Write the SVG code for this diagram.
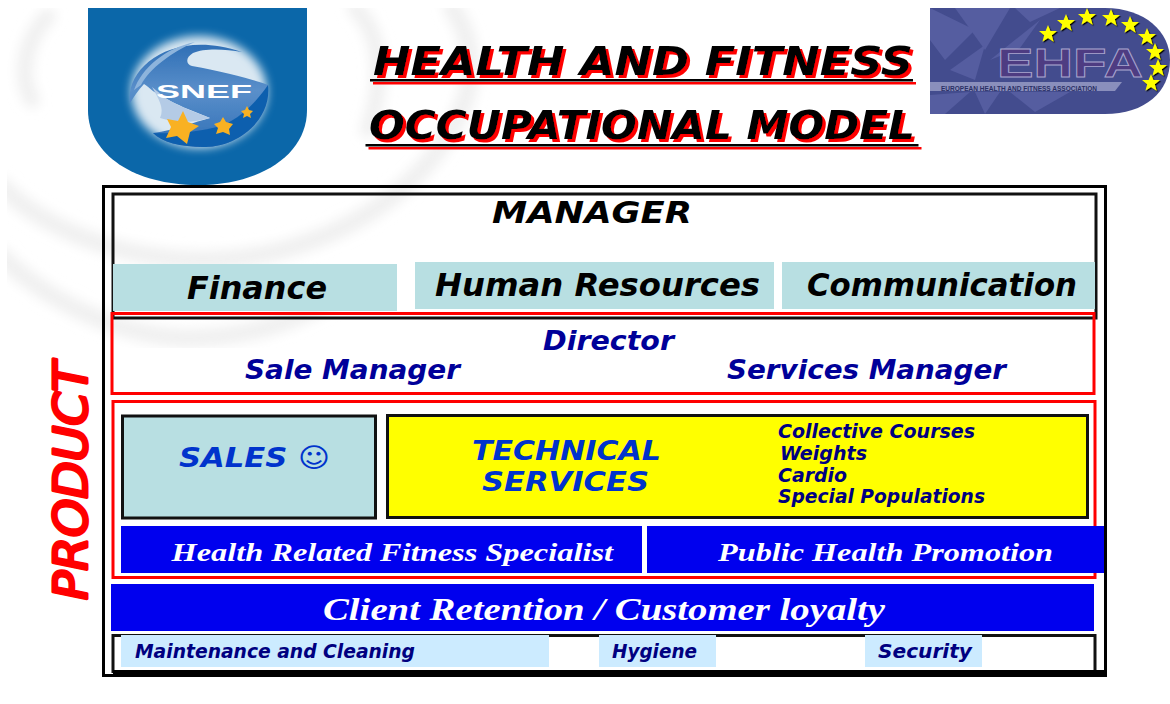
<svg xmlns="http://www.w3.org/2000/svg" width="1170" height="704" viewBox="0 0 1170 704">
<style>
text{font-family:"DejaVu Sans","Liberation Sans",sans-serif;font-weight:bold;font-style:italic}
.serif{font-family:"Liberation Serif",serif;fill:#fff}
.navy{fill:#000099}
.dk{fill:#000080}
.roy{fill:#0033cc}
.teal{fill:#b8dfe2}
.pale{fill:#ccebff}
.blue{fill:#0000ee}
.k{fill:none;stroke:#111;stroke-width:3}
.r{fill:none;stroke:#ff0000;stroke-width:3}
.ring{fill:none;stroke:#f0f0f0;stroke-linecap:round}
.logo{font-family:"Liberation Sans",sans-serif;font-style:normal}
</style>
<defs>
<filter id="shadow" x="-5%" y="-20%" width="110%" height="140%"><feDropShadow dx="3" dy="3" stdDeviation="0" flood-color="#ff0000"/></filter>
<filter id="b5" x="-20%" y="-20%" width="140%" height="140%"><feGaussianBlur stdDeviation="6"/></filter>
<filter id="b7" x="-30%" y="-30%" width="160%" height="160%"><feGaussianBlur stdDeviation="5"/></filter>
<filter id="b05" x="-10%" y="-10%" width="120%" height="120%"><feGaussianBlur stdDeviation="0.6"/></filter>
<filter id="starshadow" x="-10%" y="-10%" width="120%" height="120%"><feDropShadow dx="1.200" dy="1.200" stdDeviation="0.400" flood-color="#000"/></filter>
<clipPath id="bgclip"><rect x="7" y="8" width="520" height="340"/></clipPath>
<linearGradient id="body" x1="0" y1="0" x2="0" y2="1"><stop offset="0" stop-color="#2f6fb6"/><stop offset="0.45" stop-color="#5a8fca"/><stop offset="1" stop-color="#2f6fb6"/></linearGradient>
<polygon id="star" points="0,-9 2.400,-3 9,-3 3.800,1.200 5.600,7.800 0,4 -5.600,7.800 -3.800,1.200 -9,-3 -2.400,-3"/>
</defs>
<rect width="1170" height="704" fill="#fff"/>
<g id="background" clip-path="url(#bgclip)">
<g filter="url(#b5)">
<path class="ring" stroke-width="16" d="M48 16C25 40 18 75 32 100"/>
<path class="ring" stroke-width="16" d="M355 8C382 35 385 80 368 130"/>
<path class="ring" stroke-width="18" d="M0 185C40 225 110 258 200 260C320 262 440 190 468 90C474 60 468 30 452 8"/>
<path class="ring" stroke-width="18" d="M0 255C40 295 110 335 185 338C240 338 290 325 330 300"/>
</g>
</g>
<g id="snef-logo">
<path d="M88 8H307V110C307 155 260 185 197.500 185C135 185 88 155 88 110Z" fill="#0b67a9"/>
<ellipse cx="199" cy="92" rx="68" ry="56" fill="#fff" opacity="0.85" filter="url(#b7)"/>
<g filter="url(#b05)">
<path d="M130 103C125 68 172 28 242 52C225 49 204 48 193 53C185 58 186 64 192 66C225 72 255 80 268 85C272 118 240 147 205 147C180 147 162 142 153 133C175 130 195 122 210 118C190 110 175 104 167 99C155 94 150 88 144 84C138 90 134 97 130 103Z" fill="url(#body)"/>
<path d="M152 87L167 99C180 107 195 112 210 118C195 122 180 124 160 118C165 108 158 98 152 87Z" fill="#b4cbe6"/>
<path d="M153 133C180 134 200 131 217 127C235 122 252 108 268 85C272 118 240 147 205 147C180 147 162 142 153 133Z" fill="#0f5fae"/>
<path d="M134 90C142 68 165 48 195 42C172 52 150 68 141 85Z" fill="#8db4dc"/>
</g>
<polygon points="183,111 188,122 199,126 190,132 187,144 177,136 166,138 171,127 167,119 178,121" fill="#f9b122"/>
<polygon points="223,117 226,122 233,124 229,129 230,135 223,132 216,134 218,128 214,124 220,122" fill="#f9b122"/>
<polygon points="247,106 249,110 253,111 250,114 251,118 247,116 243,118 244,114 241,111 245,110" fill="#f9b122"/>
<text class="logo" x="156" y="98" font-size="17.500" textLength="96" lengthAdjust="spacingAndGlyphs" style="fill:#fff">SNEF</text>
</g>
<g id="ehfa-logo">
<path d="M930 8H1105C1145 8 1170 32 1170 60C1170 92 1145 114 1105 114H930Z" fill="#434c8e"/>
<g fill="#555da0">
<polygon points="930,8 975,30 945,60 930,40"/>
<polygon points="955,8 1010,8 985,50"/>
<polygon points="990,60 1040,20 1020,48"/>
<polygon points="950,70 985,45 975,80"/>
<polygon points="1015,8 1060,8 1030,22"/>
<polygon points="930,95 970,92 945,114 930,114"/>
<polygon points="1010,92 1070,92 1035,112"/>
<polygon points="975,92 1000,92 985,114"/>
</g>
<path d="M930 82H1122L1115 91H930Z" fill="#8a8fbc"/>
<text class="logo" x="941" y="90.500" font-size="6.500" textLength="156" lengthAdjust="spacingAndGlyphs" style="fill:#2b2f66">EUROPEAN HEALTH AND FITNESS ASSOCIATION</text>
<text class="logo" x="997" y="76.500" font-size="41" textLength="146" lengthAdjust="spacingAndGlyphs" stroke="#a9a6cf" stroke-width="0.800" style="fill:#4e3c82">EHFA</text>
<g fill="#ffff00" filter="url(#starshadow)">
<use href="#star" x="1048" y="34"/><use href="#star" x="1066" y="23"/><use href="#star" x="1087" y="17"/>
<use href="#star" x="1111" y="18"/><use href="#star" x="1130" y="25"/><use href="#star" x="1147" y="37"/>
<use href="#star" x="1155" y="52"/><use href="#star" x="1158" y="68"/><use href="#star" x="1151" y="83"/>
</g>
</g>
<g id="title" filter="url(#shadow)">
<text x="373" y="75" font-size="39" textLength="540" lengthAdjust="spacingAndGlyphs" fill="#000">HEALTH AND FITNESS</text>
<rect x="370" y="79" width="543" height="2.500" fill="#000"/>
<text x="369" y="139" font-size="39" textLength="546" lengthAdjust="spacingAndGlyphs" fill="#000">OCCUPATIONAL MODEL</text>
<rect x="365.500" y="144" width="553" height="2.500" fill="#000"/>
</g>
<g id="frame">
<rect x="103.500" y="186.500" width="1002" height="489" fill="none" stroke="#000" stroke-width="3"/>
</g>
<g id="manager">
<rect class="k" x="113" y="194" width="983" height="124"/>
<text x="492" y="223" font-size="31" textLength="200" lengthAdjust="spacingAndGlyphs">MANAGER</text>
</g>
<g id="finance"><rect class="teal" x="113" y="264" width="284" height="47"/>
<text x="187" y="299" font-size="32" textLength="140" lengthAdjust="spacingAndGlyphs">Finance</text></g>
<g id="human-resources"><rect class="teal" x="415" y="262" width="359" height="47"/>
<text x="435" y="296" font-size="32" textLength="325" lengthAdjust="spacingAndGlyphs">Human Resources</text></g>
<g id="communication"><rect class="teal" x="782" y="262" width="313" height="47"/>
<text x="807" y="296" font-size="32" textLength="270" lengthAdjust="spacingAndGlyphs">Communication</text></g>
<g id="directors">
<rect class="r" x="112" y="313.500" width="982" height="80"/>
<text class="navy" x="543" y="350" font-size="26" textLength="131" lengthAdjust="spacingAndGlyphs">Director</text>
<text class="navy" x="245" y="379" font-size="26" textLength="215" lengthAdjust="spacingAndGlyphs">Sale Manager</text>
<text class="navy" x="727" y="379" font-size="26" textLength="279" lengthAdjust="spacingAndGlyphs">Services Manager</text>
</g>
<g id="product-box"><rect class="r" x="113" y="401.500" width="982" height="176"/></g>
<g id="sales">
<rect class="teal" x="122.500" y="416" width="253" height="102"/><rect class="k" x="122.500" y="416" width="253" height="102"/>
<text class="roy" x="179" y="467" font-size="27" textLength="151" lengthAdjust="spacingAndGlyphs">SALES ☺</text>
</g>
<g id="technical-services">
<rect x="387.500" y="415.500" width="700" height="102" fill="#ffff00"/><rect class="k" x="387.500" y="415.500" width="700" height="102"/>
<text class="roy" x="472" y="460" font-size="27" textLength="189" lengthAdjust="spacingAndGlyphs">TECHNICAL</text>
<text class="roy" x="482" y="491" font-size="27" textLength="167" lengthAdjust="spacingAndGlyphs">SERVICES</text>
<text class="dk" x="778" y="438" font-size="19" textLength="197" lengthAdjust="spacingAndGlyphs">Collective Courses</text>
<text class="dk" x="780" y="460" font-size="19" textLength="87" lengthAdjust="spacingAndGlyphs">Weights</text>
<text class="dk" x="778" y="482" font-size="19" textLength="69" lengthAdjust="spacingAndGlyphs">Cardio</text>
<text class="dk" x="778" y="503" font-size="19" textLength="207" lengthAdjust="spacingAndGlyphs">Special Populations</text>
</g>
<g id="fitness-specialist"><rect class="blue" x="121" y="526" width="521" height="47"/>
<text class="serif" x="171.500" y="561" font-size="26" textLength="441.500" lengthAdjust="spacingAndGlyphs">Health Related Fitness Specialist</text></g>
<g id="public-health"><rect class="blue" x="647" y="526" width="457" height="47"/>
<text class="serif" x="718" y="561" font-size="26" textLength="335" lengthAdjust="spacingAndGlyphs">Public Health Promotion</text></g>
<g id="client-retention"><rect class="blue" x="111" y="584" width="983" height="47"/>
<text class="serif" x="323" y="620" font-size="31" textLength="562" lengthAdjust="spacingAndGlyphs">Client Retention / Customer loyalty</text></g>
<g id="support">
<rect x="113" y="635.500" width="982" height="36" fill="none" stroke="#111" stroke-width="3"/>
<rect x="113" y="670" width="993" height="7" fill="#000"/>
<rect class="pale" x="121" y="635" width="428" height="32"/>
<text class="dk" x="135" y="658" font-size="19" textLength="280" lengthAdjust="spacingAndGlyphs">Maintenance and Cleaning</text>
<rect class="pale" x="599" y="635" width="117" height="32"/>
<text class="dk" x="612" y="658" font-size="19" textLength="85" lengthAdjust="spacingAndGlyphs">Hygiene</text>
<rect class="pale" x="865" y="635" width="117" height="32"/>
<text class="dk" x="878" y="658" font-size="19" textLength="94" lengthAdjust="spacingAndGlyphs">Security</text>
</g>
<g id="product-label"><text transform="translate(87,600) rotate(-90)" font-size="46" textLength="238" lengthAdjust="spacingAndGlyphs" fill="#ff0000" stroke="#ff0000" stroke-width="3" stroke-linejoin="round" style="font-weight:normal">PRODUCT</text></g>
</svg>
